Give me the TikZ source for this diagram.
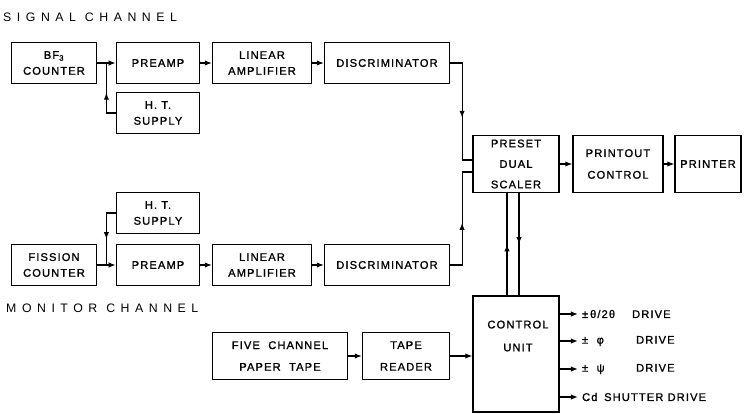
\documentclass[tikz,border=0pt]{standalone}
\usepackage{fontspec}
\setmainfont{Liberation Sans}[LetterSpace=10, FakeBold=1.2]
\newfontfamily\chanfont{Liberation Sans}[LetterSpace=45]
\usepackage{tikz}
\usetikzlibrary{arrows.meta, positioning, calc, decorations.markings}

\begin{document}
\begin{tikzpicture}[x=0.03cm, y=-0.03cm,
    blk/.style={draw, line width=1pt, inner sep=1pt, align=center, minimum height=1.22cm, font=\fontsize{9.5}{13.5}\selectfont},
    arr/.style={line width=1pt, -{Latex[length=6pt, width=4.5pt]}},
    midarr/.style={line width=1pt, postaction={decorate}, decoration={markings, mark=at position #1 with {\arrow{Latex[length=6pt, width=4.5pt]}}}},
    chan/.style={anchor=west, inner sep=0pt, font=\chanfont\fontsize{10.5}{12}\selectfont},
    drv/.style={anchor=west, font=\fontsize{9.5}{12}\selectfont}]
    \useasboundingbox (0,0) rectangle (744,413);

    % Signal channel
    \node[chan] (sigttl) at (3,17) {SIGNAL CHANNEL};
    \node[blk, minimum width=2.55cm] (bf) at (54,63) {BF\textsubscript{3}\\COUNTER};
    \node[blk, minimum width=2.5cm] (pre1) at (158,63) {PREAMP};
    \node[blk, minimum width=2.5cm] (hts1) at (158,113) {H.\ T.\\SUPPLY};
    \node[blk, minimum width=2.97cm] (lin1) at (262,63) {LINEAR\\AMPLIFIER};
    \node[blk, minimum width=3.75cm] (disc1) at (387,63) {DISCRIMINATOR};

    % Monitor channel
    \node[blk, minimum width=2.5cm] (hts2) at (158,213) {H.\ T.\\SUPPLY};
    \node[blk, minimum width=2.55cm] (fis) at (54,265) {FISSION\\COUNTER};
    \node[blk, minimum width=2.5cm] (pre2) at (158,265) {PREAMP};
    \node[blk, minimum width=2.97cm] (lin2) at (262,265) {LINEAR\\AMPLIFIER};
    \node[blk, minimum width=3.75cm] (disc2) at (387,265) {DISCRIMINATOR};
    \node[chan] (monttl) at (6,308) {MONITOR CHANNEL};

    % Scaler and printout
    \node[blk, minimum width=2.58cm, minimum height=1.71cm] (scaler) at (516,164) {PRESET\\[4pt]DUAL\\[4pt]SCALER};
    \node[blk, minimum width=2.7cm, minimum height=1.71cm] (prc) at (618,164) {PRINTOUT\\[5pt]CONTROL};
    \node[blk, minimum width=1.98cm, minimum height=1.71cm] (prn) at (708,164) {PRINTER};

    % Control unit and tape
    \node[blk, minimum width=2.58cm, minimum height=3.48cm] (ctrl) at (516,354) {};
    \node[align=center, font=\fontsize{9.5}{13.5}\selectfont] (ctrllbl) at (518,336) {CONTROL\\[6pt]UNIT};
    \node[blk, minimum width=4.05cm, minimum height=1.4cm] (tape) at (280,356) {FIVE\ \ CHANNEL\\[5pt]PAPER\ \ TAPE};
    \node[blk, minimum width=2.61cm, minimum height=1.4cm] (rdr) at (406,356) {TAPE\\[5pt]READER};

    % Drives
    \node[drv] (drv1) at (578,314) {\makebox[1.5cm][l]{±\,θ/2θ}DRIVE};
    \node[drv] (drv2) at (578,341) {\makebox[1.62cm][l]{±\ \ φ}DRIVE};
    \node[drv] (drv3) at (578,369) {\makebox[1.62cm][l]{±\ \ ψ}DRIVE};
    \node[drv] (drv4) at (578,397) {Cd\hspace{0.6em}SHUTTER DRIVE};

    % Signal links
    \draw[arr] (bf) -- (pre1);
    \draw[midarr=0.5] (hts1.west) -| ($(bf.east)!0.5!(pre1.west)$);
    \draw[arr] (pre1) -- (lin1);
    \draw[arr] (lin1) -- (disc1);
    \draw[midarr=0.56] (disc1.east) -- ++(12,0) |- ([yshift=1.2mm]scaler.west);

    % Monitor links
    \draw[arr] (fis) -- (pre2);
    \draw[midarr=0.58] (hts2.west) -| ($(fis.east)!0.5!(pre2.west)$);
    \draw[arr] (pre2) -- (lin2);
    \draw[arr] (lin2) -- (disc2);
    \draw[midarr=0.47] (disc2.east) -- ++(12,0) |- ([yshift=-2.4mm]scaler.west);

    % Scaler, printer, control
    \draw[arr] (scaler) -- (prc);
    \draw[arr] (prc) -- (prn);
    \draw[midarr=0.5] ([xshift=-2.7mm]ctrl.north) -- ([xshift=-2.7mm]scaler.south);
    \draw[midarr=0.5] ([xshift=0.9mm]scaler.south) -- ([xshift=0.9mm]ctrl.north);
    \draw[arr] (tape) -- (rdr);
    \draw[arr] (rdr) -- (rdr -| ctrl.west);

    \draw[arr] (drv1.west -| ctrl.east) -- (drv1.west);
    \draw[arr] (drv2.west -| ctrl.east) -- (drv2.west);
    \draw[arr] (drv3.west -| ctrl.east) -- (drv3.west);
    \draw[arr] (drv4.west -| ctrl.east) -- (drv4.west);
\end{tikzpicture}
\end{document}
